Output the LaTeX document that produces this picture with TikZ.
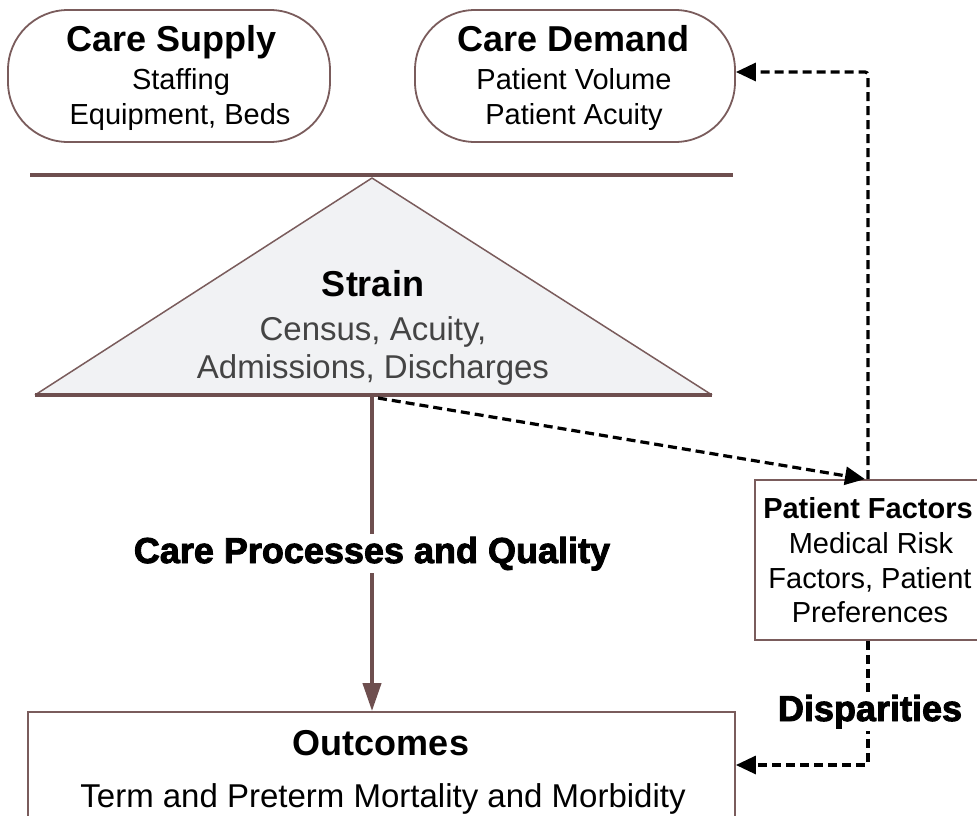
\documentclass[tikz,border=0pt]{standalone}
\usepackage{fontspec}
\setmainfont{Liberation Sans}
\newfontfamily\heavyfont[FakeBold=2.5]{Liberation Sans Bold}
\usetikzlibrary{arrows.meta,calc}
\definecolor{brd}{HTML}{7A5C5C}
\definecolor{barc}{HTML}{6E4F4F}
\definecolor{trifill}{HTML}{F1F2F4}
\definecolor{subgray}{HTML}{444444}
\begin{document}
\begin{tikzpicture}[x=1pt,y=-1pt,
  box/.style={draw=brd, line width=1.8pt, inner sep=0pt, fill=white},
  roundbox/.style={box, rounded corners=60pt},
  txt/.style={inner sep=0pt, anchor=base},
  ttl/.style={txt, font=\bfseries\fontsize{36}{40}\selectfont},
  subA/.style={txt, font=\fontsize{29}{34}\selectfont},
  subB/.style={txt, font=\fontsize{33}{38}\selectfont},
  pfttl/.style={txt, font=\bfseries\fontsize{29}{34}\selectfont},
  heavy/.style={anchor=base, inner sep=3pt, fill=white, font=\heavyfont\fontsize{36}{40}\selectfont},
  bar/.style={draw=barc, line width=4pt},
  mainarrow/.style={draw=barc, line width=4pt, -{Triangle[length=28pt,width=18pt]}},
  dasharrow/.style={draw=black, line width=3.2pt, dash pattern=on 9pt off 5pt, rounded corners=3pt, -{Triangle[length=20pt,width=18pt]}}
]
\useasboundingbox (0,0) rectangle (977,815);
\clip (0,0) rectangle (977,815);

% top boxes
\node[roundbox, minimum width=322pt, minimum height=132pt] (supply) at (169,76) {};
\node[ttl] (supplyT) at (172,51) {Care Supply};
\node[subA] (supplyA) at (181,89) {Staffing};
\node[subA] (supplyB) at (180,124) {Equipment, Beds};

\node[roundbox, minimum width=320pt, minimum height=132pt] (demand) at (575,76) {};
\node[ttl] (demandT) at (574,51) {Care Demand};
\node[subA] (demandA) at (574,89) {Patient Volume};
\node[subA] (demandB) at (574,124) {Patient Acuity};

% balance bar
\coordinate (barL) at (30,175);
\coordinate (barR) at (733,175);
\draw[bar] (barL) -- (barR);

% strain triangle
\coordinate (apex) at (372,178);
\coordinate (bl) at (35,395);
\coordinate (br) at (712,395);
\fill[trifill] (apex) -- (br) -- (bl) -- cycle;
\draw[brd, line width=1.5pt, line join=round] (bl) -- (apex) -- (br);
\draw[barc, line width=3.5pt] (bl) -- (br);
\node[ttl] (strainT) at (373,296) {Strain};
\node[subB, text=subgray] (strainA) at (373,340) {Census, Acuity,};
\node[subB, text=subgray] (strainB) at (373,378) {Admissions, Discharges};

% outcomes
\node[box, minimum width=707pt, minimum height=110pt] (outcomes) at (381.5,767) {};
\node[ttl] (outT) at (381,755) {Outcomes};
\node[subB] (outA) at (383,807) {Term and Preterm Mortality and Morbidity};

% patient factors
\node[box, minimum width=226pt, minimum height=160pt] (pf) at (868,560) {};
\node[pfttl] (pfT) at (868,518) {Patient Factors};
\node[subA] (pfA) at (871,553) {Medical Risk};
\node[subA] (pfB) at (870,588) {Factors, Patient};
\node[subA] (pfC) at (870,622) {Preferences};

% connectors
\coordinate (sbase) at (372,397);
\draw[mainarrow] (sbase) -- (sbase |- outcomes.north);
\node[heavy] (cpq) at (372,563) {Care Processes and Quality};

\coordinate (sdash) at (378,398);
\coordinate (demIn) at ($(demand.east)+(0,-4)$);
\coordinate (outIn) at ($(outcomes.east)+(0,-2)$);
\draw[dasharrow] (sdash) -- ([xshift=-3pt]pf.north);
\draw[dasharrow] (pf.north) |- (demIn);
\draw[dasharrow] (pf.south) |- (outIn);
\node[heavy] (disp) at (870,721) {Disparities};
\end{tikzpicture}
\end{document}
